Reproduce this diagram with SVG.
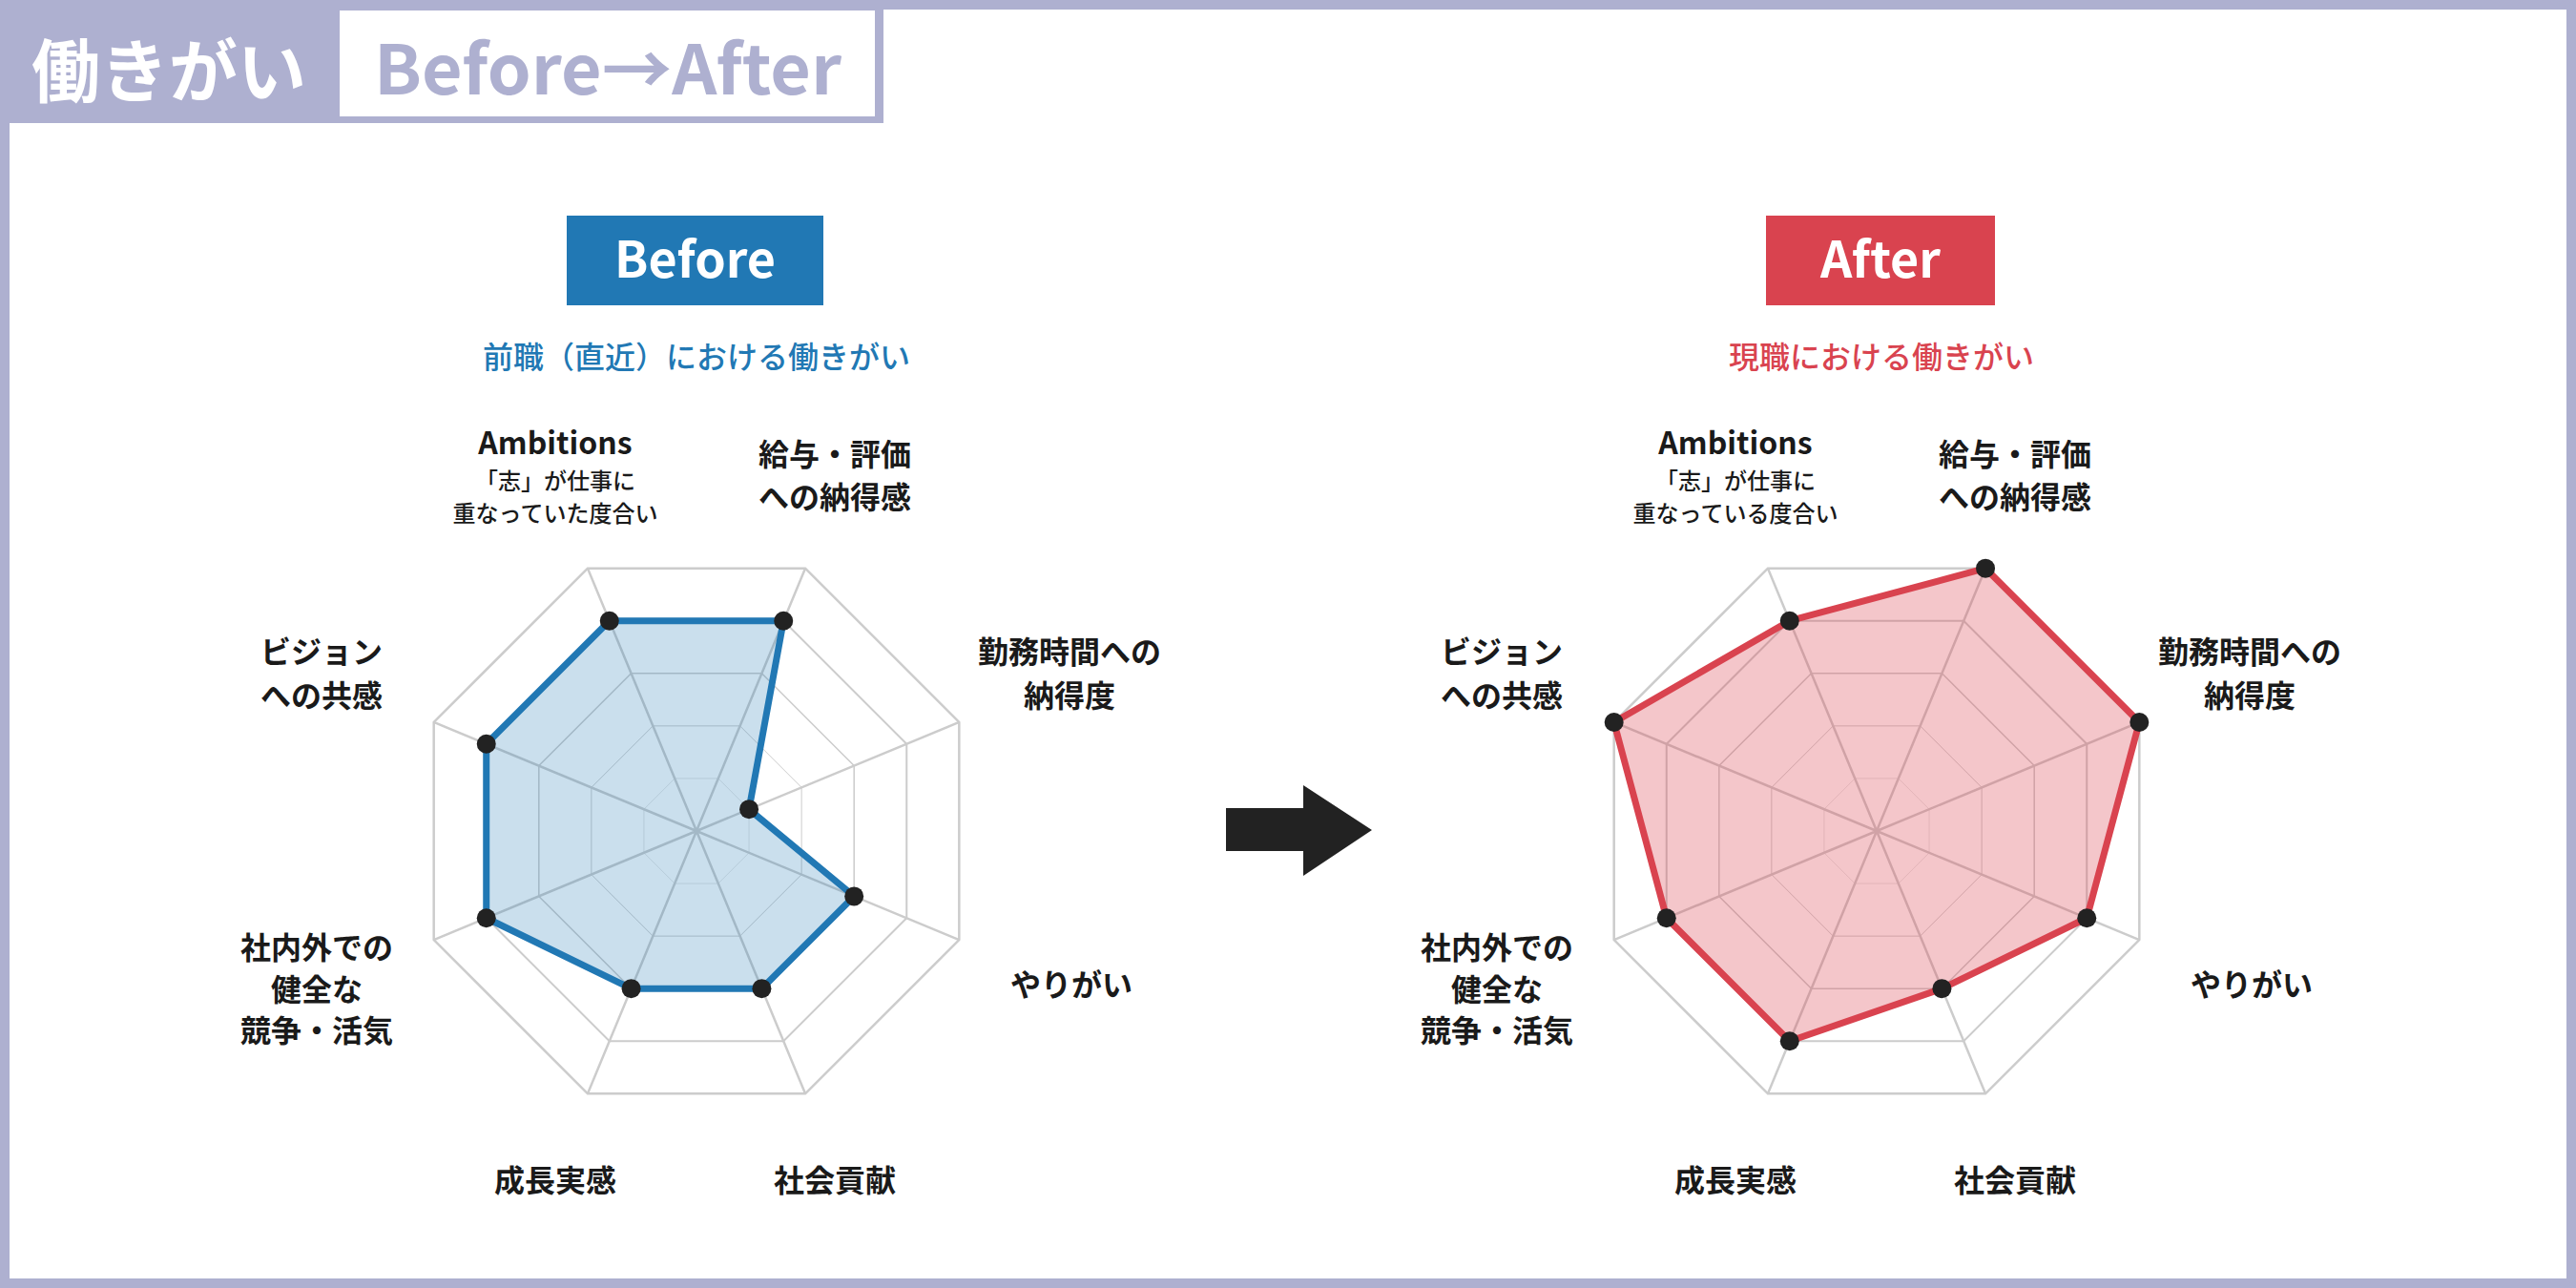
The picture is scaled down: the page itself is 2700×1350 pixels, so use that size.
<svg xmlns="http://www.w3.org/2000/svg" xmlns:xlink="http://www.w3.org/1999/xlink" width="2700" height="1350" viewBox="0 0 2700 1350">
<style>
.t{font-family:"Noto Sans CJK JP","Noto Sans",sans-serif;font-weight:700;fill:#1a1a1a;text-anchor:middle}
.l{font-size:32px}
.s{font-size:24px;font-weight:500}
.grid{fill:none;stroke:#cccccc;stroke-width:2.5;vector-effect:non-scaling-stroke}
.dot{fill:#222}
</style>
<defs>
<polygon id="oct" points="-114.04,-275.32 114.04,-275.32 275.32,-114.04 275.32,114.04 114.04,275.32 -114.04,275.32 -275.32,114.04 -275.32,-114.04"/>
<g id="grid">
<use xlink:href="#oct" class="grid"/>
<use xlink:href="#oct" class="grid" transform="scale(0.8)"/>
<use xlink:href="#oct" class="grid" transform="scale(0.6)"/>
<use xlink:href="#oct" class="grid" transform="scale(0.4)"/>
<use xlink:href="#oct" class="grid" transform="scale(0.2)"/>
<path class="grid" d="M0,0L-114.04,-275.32M0,0L114.04,-275.32M0,0L275.32,-114.04M0,0L275.32,114.04M0,0L114.04,275.32M0,0L-114.04,275.32M0,0L-275.32,114.04M0,0L-275.32,-114.04"/>
</g>
</defs>
<rect x="0" y="0" width="2700" height="1350" fill="#fff"/>
<rect x="5" y="5" width="2690" height="1340" fill="none" stroke="#aeb0d0" stroke-width="10"/>
<g id="title">
<rect x="0" y="0" width="926" height="129" fill="#aeb0d0"/>
<rect x="356" y="11" width="561" height="111" fill="#fff"/>
<text x="177" y="101" class="t" style="font-size:72px;fill:#fff">働きがい</text>
<text x="637" y="99" class="t" style="font-size:72px;fill:#aeb0d0" textLength="490" lengthAdjust="spacingAndGlyphs">Before→After</text>
</g>
<g id="before">
<rect x="594" y="226" width="269" height="94" fill="#2178b4"/>
<text x="728.5" y="291" class="t" style="font-size:52px;fill:#fff">Before</text>
<text x="730" y="386" class="t" style="font-size:32px;font-weight:500;fill:#2178b4">前職（直近）における働きがい</text>
<g transform="translate(730,871)">
<use xlink:href="#grid"/>
<polygon points="-91.23,-220.26 91.23,-220.26 55.06,-22.81 165.19,68.42 68.42,165.19 -68.42,165.19 -220.26,91.23 -220.26,-91.23" fill="#2178b4" fill-opacity="0.24" stroke="#2178b4" stroke-width="7" stroke-linejoin="round"/>
<g class="dot">
<circle cx="-91.23" cy="-220.26" r="10"/><circle cx="91.23" cy="-220.26" r="10"/><circle cx="55.06" cy="-22.81" r="10"/><circle cx="165.19" cy="68.42" r="10"/><circle cx="68.42" cy="165.19" r="10"/><circle cx="-68.42" cy="165.19" r="10"/><circle cx="-220.26" cy="91.23" r="10"/><circle cx="-220.26" cy="-91.23" r="10"/>
</g>
</g>
<text class="t l" x="582" y="476">Ambitions</text>
<text class="t s" x="582" y="513">「志」が仕事に</text>
<text class="t s" x="582" y="547">重なっていた度合い</text>
<text class="t l" x="875" y="488">給与・評価</text>
<text class="t l" x="875" y="533">への納得感</text>
<text class="t l" x="1121" y="695">勤務時間への</text>
<text class="t l" x="1121" y="741">納得度</text>
<text class="t l" x="1123" y="1044">やりがい</text>
<text class="t l" x="875" y="1249">社会貢献</text>
<text class="t l" x="582" y="1249">成長実感</text>
<text class="t l" x="332" y="1005">社内外での</text>
<text class="t l" x="332" y="1049">健全な</text>
<text class="t l" x="332" y="1092">競争・活気</text>
<text class="t l" x="337" y="695">ビジョン</text>
<text class="t l" x="337" y="741">への共感</text>
</g>
<g id="arrow">
<polygon points="1285,847 1366,847 1366,823 1438,870 1366,918 1366,892 1285,892" fill="#222"/>
</g>
<g id="after">
<rect x="1851" y="226" width="240" height="94" fill="#d9434f"/>
<text x="1971" y="291" class="t" style="font-size:52px;fill:#fff">After</text>
<text x="1972" y="386" class="t" style="font-size:32px;font-weight:500;fill:#d9434f">現職における働きがい</text>
<g transform="translate(1967,871)">
<use xlink:href="#grid"/>
<polygon points="-91.23,-220.26 114.04,-275.32 275.32,-114.04 220.26,91.23 68.42,165.19 -91.23,220.26 -220.26,91.23 -275.32,-114.04" fill="#d9434f" fill-opacity="0.3" stroke="#d9434f" stroke-width="7" stroke-linejoin="round"/>
<g class="dot">
<circle cx="-91.23" cy="-220.26" r="10"/><circle cx="114.04" cy="-275.32" r="10"/><circle cx="275.32" cy="-114.04" r="10"/><circle cx="220.26" cy="91.23" r="10"/><circle cx="68.42" cy="165.19" r="10"/><circle cx="-91.23" cy="220.26" r="10"/><circle cx="-220.26" cy="91.23" r="10"/><circle cx="-275.32" cy="-114.04" r="10"/>
</g>
</g>
<text class="t l" x="1819" y="476">Ambitions</text>
<text class="t s" x="1819" y="513">「志」が仕事に</text>
<text class="t s" x="1819" y="547">重なっている度合い</text>
<text class="t l" x="2112" y="488">給与・評価</text>
<text class="t l" x="2112" y="533">への納得感</text>
<text class="t l" x="2358" y="695">勤務時間への</text>
<text class="t l" x="2358" y="741">納得度</text>
<text class="t l" x="2360" y="1044">やりがい</text>
<text class="t l" x="2112" y="1249">社会貢献</text>
<text class="t l" x="1819" y="1249">成長実感</text>
<text class="t l" x="1569" y="1005">社内外での</text>
<text class="t l" x="1569" y="1049">健全な</text>
<text class="t l" x="1569" y="1092">競争・活気</text>
<text class="t l" x="1574" y="695">ビジョン</text>
<text class="t l" x="1574" y="741">への共感</text>
</g>
</svg>
